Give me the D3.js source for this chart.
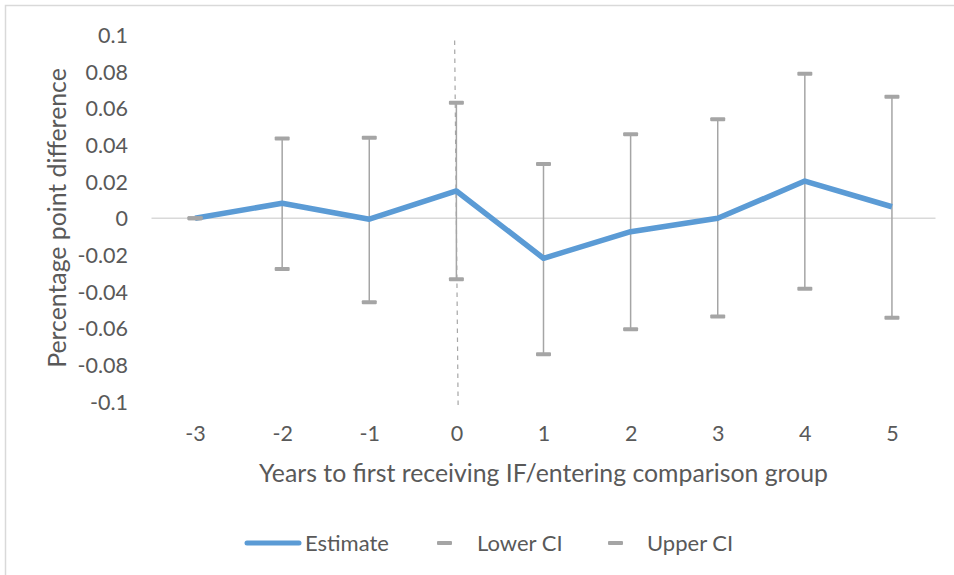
<!DOCTYPE html>
<html>
<head>
<meta charset="utf-8">
<script src="https://cdn.jsdelivr.net/npm/d3@7"></script>
<style>
  body { margin: 0; background: #fff; }
  text { font-family: Lato, "Open Sans", sans-serif; fill: #595959; }
</style>
</head>
<body>
<script>
// years relative to first receiving IF
var years = [-3, -2, -1, 0, 1, 2, 3, 4, 5];
var estimate = [0, 0.0082, -0.0005, 0.0149, -0.0218, -0.0073, 0.0, 0.0203, 0.0063];
var lowerCI = [0, -0.0276, -0.0458, -0.0332, -0.0741, -0.0605, -0.0536, -0.0384, -0.0543];
var upperCI = [0, 0.0436, 0.0439, 0.0630, 0.0296, 0.0458, 0.0540, 0.0788, 0.0663];
var yTicks = [0.1, 0.08, 0.06, 0.04, 0.02, 0, -0.02, -0.04, -0.06, -0.08, -0.1];
// the dashed line at year 0 (drawn slightly slanted in the original)
var refLine = [[-0.02, 0.097], [0.02, -0.103]];
var legendItems = ["Estimate", "Lower CI", "Upper CI"];

var width = 954, height = 575;

var svg = d3.select("body").append("svg")
    .attr("width", width)
    .attr("height", height);

// chart area border (only top and left show in the picture)
svg.append("rect")
    .attr("x", 5.5).attr("y", 5.5)
    .attr("width", 1000).attr("height", 1000)
    .attr("fill", "none")
    .attr("stroke", "#d9d9d9")
    .attr("stroke-width", 1.5);

var x = d3.scaleLinear()
    .domain([-3.5, 5.5])
    .range([151.5, 935.5]);

var y = d3.scaleLinear()
    .domain([-0.1, 0.1])
    .range([401.6, 35]);

// plain hyphen for negatives, like the original
var fmt = function(d) { return String(d); };

//__y axis labels__//
var yAxis = svg.append("g")
    .attr("transform", "translate(128,0)")
    .call(d3.axisLeft(y).tickValues(yTicks).tickSize(0).tickPadding(0).tickFormat(fmt));
yAxis.select(".domain").remove();
yAxis.selectAll("text")
    .style("font-size", "21.5px")
    .attr("fill", "#595959")
    .attr("dy", "0.35em");

//__zero line__//
svg.append("line")
    .attr("x1", x(-3.5)).attr("x2", x(5.5))
    .attr("y1", y(0)).attr("y2", y(0))
    .attr("stroke", "#d9d9d9")
    .attr("stroke-width", 1.5);

//__x axis labels__//
var xAxis = svg.append("g")
    .attr("transform", "translate(0,433)")
    .call(d3.axisBottom(x).tickValues(years).tickSize(0).tickPadding(0).tickFormat(fmt));
xAxis.select(".domain").remove();
xAxis.selectAll("text")
    .style("font-size", "21.5px")
    .attr("fill", "#595959")
    .attr("dy", "0.35em");

//__dashed reference line__//
svg.append("path")
    .datum(refLine)
    .attr("fill", "none")
    .attr("stroke", "#a6a6a6")
    .attr("stroke-width", 1.2)
    .attr("stroke-dasharray", "4.5,4.5")
    .attr("d", d3.line().x(function(d) { return x(d[0]); }).y(function(d) { return y(d[1]); }));

var ciColor = "#a5a5a5";

//__CI whiskers__//
svg.selectAll(".whisker")
    .data(years)
    .enter().append("line")
    .attr("class", "whisker")
    .attr("x1", function(d) { return x(d); })
    .attr("x2", function(d) { return x(d); })
    .attr("y1", function(d, i) { return y(lowerCI[i]); })
    .attr("y2", function(d, i) { return y(upperCI[i]); })
    .attr("stroke", ciColor)
    .attr("stroke-width", 1.5);

//__estimate line__//
svg.append("path")
    .datum(estimate)
    .attr("fill", "none")
    .attr("stroke", "#5b9bd5")
    .attr("stroke-width", 5.5)
    .attr("stroke-linejoin", "round")
    .attr("d", d3.line().x(function(d, i) { return x(years[i]); }).y(function(d) { return y(d); }));

//__caps (dash markers)__//
function caps(values) {
    svg.append("g").selectAll("rect")
        .data(values)
        .enter().append("rect")
        .attr("x", function(d, i) { return x(years[i]) - 7.5; })
        .attr("y", function(d) { return y(d) - 2; })
        .attr("width", 15)
        .attr("height", 4)
        .attr("rx", 1)
        .attr("fill", ciColor);
}
caps(lowerCI);
caps(upperCI);

//__axis titles__//
svg.append("text")
    .attr("x", x(1)).attr("y", 473)
    .attr("dy", "0.35em")
    .attr("text-anchor", "middle")
    .style("font-size", "24.8px")
    .text("Years to first receiving IF/entering comparison group");

svg.append("text")
    .attr("transform", "translate(57,218) rotate(-90)")
    .attr("dy", "0.35em")
    .attr("text-anchor", "middle")
    .style("font-size", "24.8px")
    .text("Percentage point difference");

//__legend__//
var legend = svg.append("g").attr("transform", "translate(0,543)");
legend.append("line")
    .attr("x1", 247).attr("x2", 299)
    .attr("stroke", "#5b9bd5")
    .attr("stroke-width", 5)
    .attr("stroke-linecap", "round");
legend.append("text").attr("x", 305).attr("dy", "0.35em")
    .style("font-size", "22px").text(legendItems[0]);

legend.append("rect").attr("x", 437).attr("y", -2).attr("width", 15).attr("height", 4)
    .attr("rx", 1).attr("fill", ciColor);
legend.append("text").attr("x", 477).attr("dy", "0.35em")
    .style("font-size", "22px").text(legendItems[1]);

legend.append("rect").attr("x", 608).attr("y", -2).attr("width", 15).attr("height", 4)
    .attr("rx", 1).attr("fill", ciColor);
legend.append("text").attr("x", 647).attr("dy", "0.35em")
    .style("font-size", "22px").text(legendItems[2]);
</script>
</body>
</html>
